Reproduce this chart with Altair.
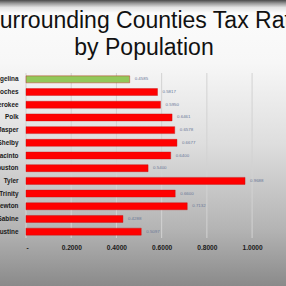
import altair as alt
import pandas as pd

counties = ["Angelina", "Nacogdoches", "Cherokee", "Polk", "Jasper", "Shelby",
            "San Jacinto", "Houston", "Tyler", "Trinity", "Newton", "Sabine",
            "San Augustine"]
rates = [0.4585, 0.5817, 0.5950, 0.6461, 0.6578, 0.6677, 0.6400, 0.5400,
         0.9688, 0.6600, 0.7132, 0.4288, 0.5097]
highlight = ["Angelina"]
tick_values = [0.0, 0.2, 0.4, 0.6, 0.8, 1.0]
title_lines = ["Surrounding Counties Tax Rate", "by Population"]

df = pd.DataFrame({
    "County": counties,
    "Rate": rates,
    "Group": ["home" if c in highlight else "other" for c in counties],
})
ticks_df = pd.DataFrame({"v": tick_values})

FONT = "Liberation Sans"

gradient = alt.Gradient(
    gradient="linear",
    stops=[
        alt.GradientStop(color="#4a4a4a", offset=0),
        alt.GradientStop(color="#9a9a9a", offset=0.012),
        alt.GradientStop(color="#e4e4e4", offset=0.026),
        alt.GradientStop(color="#fbfbfb", offset=0.045),
        alt.GradientStop(color="#f7f7f7", offset=0.22),
        alt.GradientStop(color="#dedede", offset=0.5),
        alt.GradientStop(color="#b4b4b4", offset=0.8),
        alt.GradientStop(color="#8a8a8a", offset=1),
    ],
    x1=0, x2=0, y1=0, y2=1,
)

one = pd.DataFrame({"k": [0]})

bg = alt.Chart(one).mark_rect(color=gradient).encode(
    x=alt.value(-26), x2=alt.value(260), y=alt.value(-73), y2=alt.value(213)
)

title = alt.Chart(one).mark_text(
    text=title_lines, font=FONT, fontSize=23, color="#111111",
    align="center", baseline="top", lineHeight=27
).encode(x=alt.value(118), y=alt.value(-63))

xscale = alt.Scale(domain=[0, 1.15], nice=False)
xaxis = alt.Axis(title=None, values=tick_values, grid=False,
                 ticks=False, domain=False, zindex=2,
                 labelExpr="datum.value == 0 ? '-' : format(datum.value, '.4f')",
                 labelFont=FONT, labelFontSize=6.6,
                 labelFontWeight="bold", labelColor="#1a1a1a",
                 labelPadding=6)

grid = alt.Chart(ticks_df).mark_rule(color="#d2d2d2", strokeWidth=1).encode(
    x=alt.X("v:Q", scale=xscale, axis=xaxis)
)

base = alt.Chart(df).encode(
    y=alt.Y("County:N", sort=counties,
            scale=alt.Scale(paddingInner=0.45, paddingOuter=0.225),
            axis=alt.Axis(title=None, ticks=False, domain=False, zindex=2,
                          labelFont=FONT, labelFontSize=6.4,
                          labelFontWeight="bold", labelColor="#1a1a1a",
                          labelPadding=8, labelLimit=200)),
    x=alt.X("Rate:Q", scale=xscale, axis=xaxis),
)

bars = base.mark_bar(stroke="#c01010", strokeWidth=0.4).encode(
    color=alt.Color("Group:N",
                    scale=alt.Scale(domain=["home", "other"],
                                    range=["#92c85a", "#ff0000"]),
                    legend=None)
)

labels = base.mark_text(align="left", baseline="middle", dx=5,
                        fontSize=4.4, font=FONT, color="#6a7898").encode(
    text=alt.Text("Rate:Q", format=".4f")
)

chart = alt.layer(bg, title, grid, bars, labels).properties(
    width=260,
    height=165,
    autosize=alt.AutoSizeParams(type="none"),
    padding={"left": 26, "top": 73, "right": 0, "bottom": 48},
).configure_view(stroke=None).configure(background="#8a8a8a")

chart.save("out.html", embed_options={"renderer": "svg", "actions": False})
